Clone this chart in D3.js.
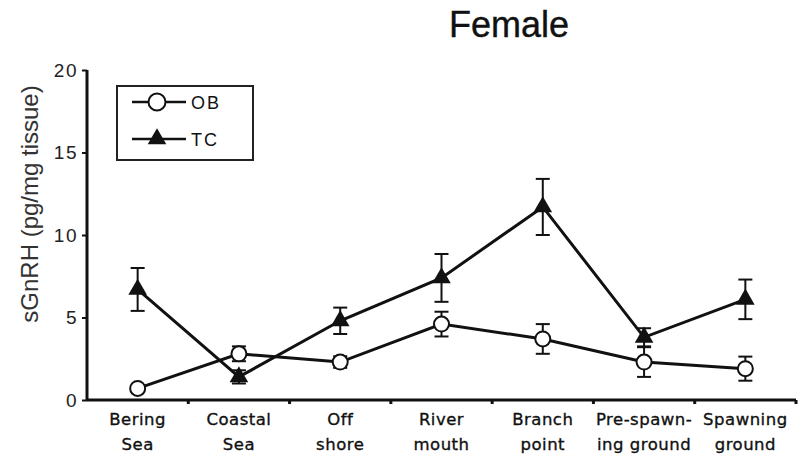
<!DOCTYPE html>
<html><head><meta charset="utf-8">
<script src="https://cdn.jsdelivr.net/npm/d3@7/dist/d3.min.js"></script>
<style>body{margin:0;background:#fff}svg{display:block}</style>
</head><body>
<svg id="chart" width="800" height="455"></svg>
<script>
const categories = [["Bering","Sea"],["Coastal","Sea"],["Off","shore"],["River","mouth"],["Branch","point"],["Pre-spawn-","ing ground"],["Spawning","ground"]];
const obValues = [0.7, 2.8, 2.3, 4.6, 3.7, 2.3, 1.9];
const obErrors = [0.15, 0.45, 0.35, 0.75, 0.9, 0.9, 0.73];
const tcValues = [6.7, 1.4, 4.8, 7.4, 11.7, 3.8, 6.1];
const tcErrors = [1.3, 0.4, 0.8, 1.45, 1.7, 0.55, 1.2];
const yTicks = [0, 5, 10, 15, 20];
const seriesNames = ["OB", "TC"];

const svg = d3.select("#chart");
const x = d3.scaleBand().domain(d3.range(categories.length)).range([87, 796]).padding(0);
const y = d3.scaleLinear().domain([0, 20]).range([400, 70]);
const cx = i => x(i) + x.bandwidth() / 2;

// title
svg.append("text").attr("x", 509).attr("y", 37).attr("text-anchor", "middle")
  .attr("font-family", "Liberation Sans, Arial, sans-serif").attr("font-size", 36).attr("fill", "#111")
  .attr("stroke", "#111").attr("stroke-width", 0.4)
  .text("Female");

// y label
svg.append("text").attr("transform", "translate(38,204) rotate(-90)").attr("text-anchor", "middle")
  .attr("font-family", "Liberation Sans, Arial, sans-serif").attr("font-size", 24).attr("fill", "#333")
  .text("sGnRH (pg/mg tissue)");

// y axis
const yAxis = svg.append("g").attr("transform", "translate(87,0)")
  .call(d3.axisLeft(y).tickValues(yTicks).tickSize(5).tickPadding(4).tickFormat(d3.format("d")));
yAxis.select(".domain").attr("stroke", "#111").attr("stroke-width", 3).attr("d", `M0,${y(20)}V${y(0)}`);
yAxis.selectAll(".tick line").attr("stroke", "#111").attr("stroke-width", 2);
yAxis.selectAll(".tick text").attr("font-family", "Liberation Sans, Arial, sans-serif")
  .attr("font-size", 19).attr("letter-spacing", 1.5).attr("fill", "#222");

// x axis
svg.append("line").attr("x1", 87).attr("x2", 796).attr("y1", y(0)).attr("y2", y(0))
  .attr("stroke", "#111").attr("stroke-width", 3);
svg.selectAll(".xtick").data(d3.range(1, categories.length + 1)).enter().append("line")
  .attr("x1", d => x.step() * d + 87).attr("x2", d => x.step() * d + 87)
  .attr("y1", y(0)).attr("y2", y(0) + 4).attr("stroke", "#111").attr("stroke-width", 3);
const xl = svg.selectAll(".xlab").data(categories).enter().append("text")
  .attr("text-anchor", "middle").attr("font-family", "DejaVu Sans, sans-serif")
  .attr("font-size", 16.5).attr("letter-spacing", 0.5).attr("fill", "#111")
  .attr("stroke", "#111").attr("stroke-width", 0.35);
xl.append("tspan").attr("x", (d, i) => cx(i)).attr("y", 425).text(d => d[0]);
xl.append("tspan").attr("x", (d, i) => cx(i)).attr("y", 450).text(d => d[1]);

// lines
const line = d3.line().x((d, i) => cx(i)).y(d => y(d));
svg.append("path").datum(obValues).attr("d", line).attr("fill", "none").attr("stroke", "#111").attr("stroke-width", 3);
svg.append("path").datum(tcValues).attr("d", line).attr("fill", "none").attr("stroke", "#111").attr("stroke-width", 3);

// error bars
function errBars(vals, errs) {
  const g = svg.append("g").attr("stroke", "#111").attr("stroke-width", 2);
  vals.forEach((v, i) => {
    const e = errs[i];
    g.append("line").attr("x1", cx(i)).attr("x2", cx(i)).attr("y1", y(v + e)).attr("y2", y(v - e));
    g.append("line").attr("x1", cx(i) - 7).attr("x2", cx(i) + 7).attr("y1", y(v + e)).attr("y2", y(v + e));
    g.append("line").attr("x1", cx(i) - 7).attr("x2", cx(i) + 7).attr("y1", y(v - e)).attr("y2", y(v - e));
  });
}
errBars(obValues, obErrors);
errBars(tcValues, tcErrors);

// markers
const tri = d3.symbol().type(d3.symbolTriangle).size(150);
svg.selectAll(".ob").data(obValues).enter().append("circle")
  .attr("cx", (d, i) => cx(i)).attr("cy", d => y(d)).attr("r", 7.5)
  .attr("fill", "#fff").attr("stroke", "#111").attr("stroke-width", 2);
svg.selectAll(".tc").data(tcValues).enter().append("path")
  .attr("d", tri).attr("transform", (d, i) => `translate(${cx(i)},${y(d)})`).attr("fill", "#111");

// legend
svg.append("rect").attr("x", 117).attr("y", 86).attr("width", 136).attr("height", 74)
  .attr("fill", "none").attr("stroke", "#222").attr("stroke-width", 2);
const ly = [102, 139];
seriesNames.forEach((n, k) => {
  svg.append("line").attr("x1", 132).attr("x2", 186).attr("y1", ly[k]).attr("y2", ly[k])
    .attr("stroke", "#111").attr("stroke-width", 2.5);
  if (k === 0) {
    svg.append("circle").attr("cx", 157).attr("cy", ly[k]).attr("r", 8.5)
      .attr("fill", "#fff").attr("stroke", "#111").attr("stroke-width", 2);
  } else {
    svg.append("path").attr("d", tri).attr("transform", `translate(157,${ly[k]})`).attr("fill", "#111");
  }
  svg.append("text").attr("x", 191).attr("y", ly[k] + 6.5)
    .attr("font-family", "Liberation Sans, Arial, sans-serif").attr("font-size", 18)
    .attr("letter-spacing", 2).attr("fill", "#111").text(n);
});
</script>
</body></html>
